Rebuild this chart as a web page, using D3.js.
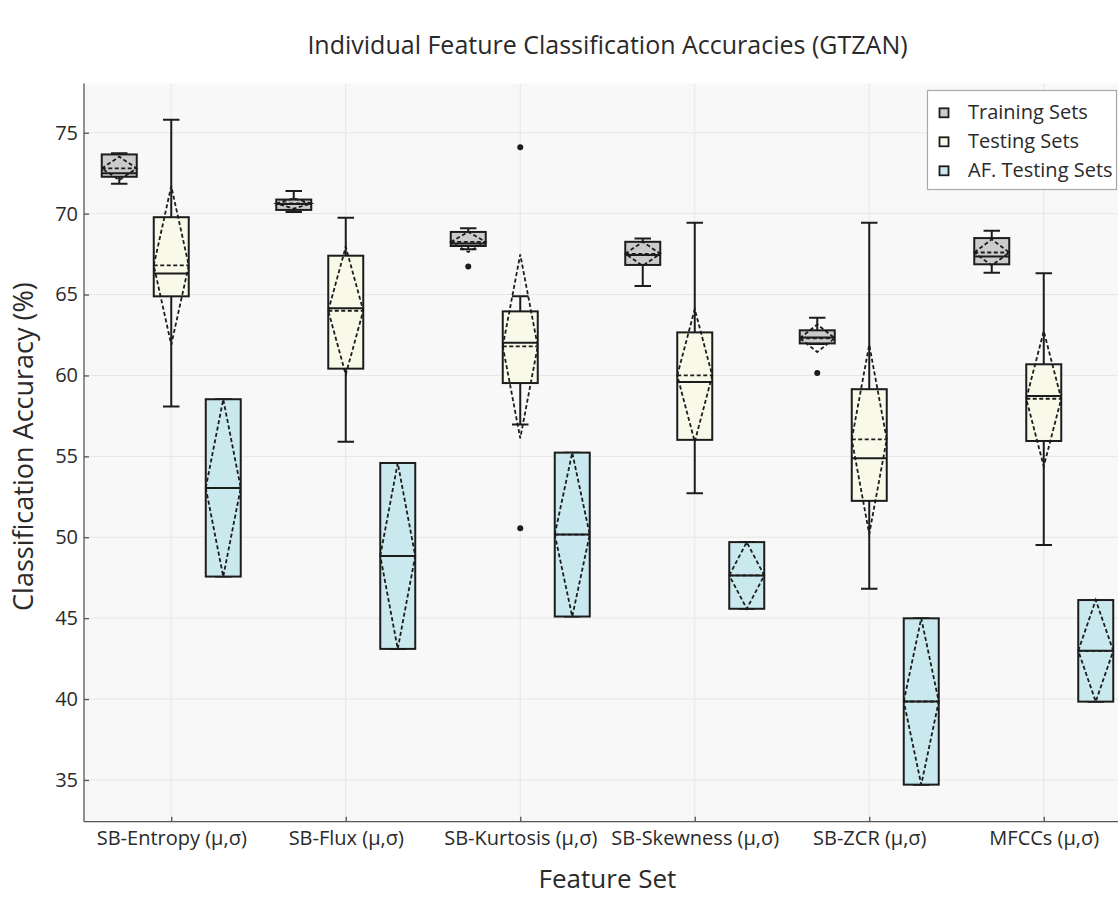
<!DOCTYPE html>
<html>
<head>
<meta charset="utf-8">
<script src="https://cdn.jsdelivr.net/npm/d3@7"></script>
<style>
  html, body { margin: 0; padding: 0; background: #ffffff; }
  svg { display: block; font-family: "Open Sans", "Noto Sans", sans-serif; }
</style>
</head>
<body>
<svg id="chart" width="1118" height="897"></svg>
<script>
// ---- data ----------------------------------------------------------------
const categories = ["SB-Entropy (μ,σ)", "SB-Flux (μ,σ)", "SB-Kurtosis (μ,σ)",
                    "SB-Skewness (μ,σ)", "SB-ZCR (μ,σ)", "MFCCs (μ,σ)"];
const seriesNames = ["Training Sets", "Testing Sets", "AF. Testing Sets"];
const yTicks = [35, 40, 45, 50, 55, 60, 65, 70, 75];

// Training folds: five-number summary, mean, standard deviation, outliers
const trainLow      = [71.85, 70.10, 67.80, 65.53, 61.95, 66.35];
const trainQ1       = [72.28, 70.23, 68.00, 66.83, 61.98, 66.87];
const trainMedian   = [72.49, 70.60, 68.15, 67.45, 62.35, 67.35];
const trainQ3       = [73.66, 70.87, 68.87, 68.26, 62.79, 68.49];
const trainHigh     = [73.73, 71.40, 69.10, 68.47, 63.57, 68.94];
const trainMean     = [72.80, 70.63, 68.25, 67.52, 62.30, 67.60];
const trainSd       = [0.72, 0.32, 0.62, 0.74, 0.85, 0.81];
const trainOutliers = [[], [], [66.74], [], [60.15], []];

// Testing folds
const testLow      = [58.08, 55.91, 56.97, 52.72, 46.82, 49.52];
const testQ1       = [64.89, 60.42, 59.53, 56.02, 52.25, 55.95];
const testMedian   = [66.30, 64.15, 62.02, 59.59, 54.89, 58.73];
const testQ3       = [69.78, 67.40, 63.96, 62.66, 59.15, 60.69];
const testHigh     = [75.81, 69.75, 64.89, 69.43, 69.43, 66.31];
const testMean     = [66.80, 64.00, 61.80, 60.00, 56.05, 58.56];
const testSd       = [4.90, 3.95, 5.68, 4.10, 5.85, 4.18];
const testOutliers = [[], [], [74.11, 50.55], [], [], []];

// AF testing: the two fold accuracies per feature set
const afFoldLow  = [47.57, 43.10, 45.10, 45.58, 34.71, 39.84];
const afFoldHigh = [58.53, 54.59, 55.23, 49.70, 44.99, 46.12];

// ---- styling -------------------------------------------------------------
const fills = ["#cbcbcb", "#f9f9ea", "#c9e9ef"];
const ink = "#1c1c1c";

// ---- build per-series box descriptions -----------------------------------
function boxesFrom(low, q1, med, q3, high, mean, sd, outl) {
  return categories.map((c, i) => ({
    cat: c, low: low[i], q1: q1[i], med: med[i], q3: q3[i], high: high[i],
    mean: mean[i], sd: sd[i], outliers: outl[i]
  }));
}
// a box of two values: quartiles at the values, mean/median at their midpoint,
// (population) standard deviation equal to half their spread
const afBoxes = categories.map((c, i) => {
  const vals = [afFoldLow[i], afFoldHigh[i]];
  const m = d3.mean(vals);
  const sd = d3.deviation(vals) * Math.sqrt((vals.length - 1) / vals.length);
  return { cat: c, low: d3.min(vals), q1: d3.min(vals), med: d3.median(vals),
           q3: d3.max(vals), high: d3.max(vals), mean: m, sd: sd, outliers: [] };
});

const series = [
  { name: seriesNames[0], fill: fills[0],
    boxes: boxesFrom(trainLow, trainQ1, trainMedian, trainQ3, trainHigh, trainMean, trainSd, trainOutliers) },
  { name: seriesNames[1], fill: fills[1],
    boxes: boxesFrom(testLow, testQ1, testMedian, testQ3, testHigh, testMean, testSd, testOutliers) },
  { name: seriesNames[2], fill: fills[2], boxes: afBoxes }
];

// ---- layout & scales -----------------------------------------------------
const plot = { left: 84, right: 1131, top: 83.4, bottom: 821.7 };
const svg = d3.select("#chart");

const x = d3.scalePoint().domain(categories)
  .range([plot.left, plot.right]).padding(0.5);
const xSub = d3.scaleBand().domain(seriesNames)
  .range([-78, 78]).paddingInner(0.327).paddingOuter(0.1635);
const y = d3.scaleLinear().domain([32.42, 78.05]).range([plot.bottom, plot.top]);

const bw = xSub.bandwidth();
const capW = bw * 0.47;

// plot background
svg.append("rect")
  .attr("x", plot.left).attr("y", plot.top)
  .attr("width", plot.right - plot.left).attr("height", plot.bottom - plot.top)
  .attr("fill", "#f8f8f8");

// grid
const grid = svg.append("g").attr("stroke", "#e6e6e6").attr("stroke-width", 1);
grid.selectAll("line.h").data(yTicks).join("line").attr("class", "h")
  .attr("x1", plot.left).attr("x2", plot.right)
  .attr("y1", d => y(d)).attr("y2", d => y(d));
grid.selectAll("line.v").data(categories).join("line").attr("class", "v")
  .attr("x1", d => x(d)).attr("x2", d => x(d))
  .attr("y1", plot.top).attr("y2", plot.bottom);

// boxes
series.forEach(s => {
  const g = svg.append("g");
  s.boxes.forEach(b => {
    const cx = x(b.cat) + xSub(s.name) + bw / 2;
    const l = cx - bw / 2, r = cx + bw / 2;
    const gb = g.append("g");
    // whiskers
    gb.append("path")
      .attr("d", `M${cx},${y(b.q3)}V${y(b.high)}M${cx - capW / 2},${y(b.high)}H${cx + capW / 2}` +
                 `M${cx},${y(b.q1)}V${y(b.low)}M${cx - capW / 2},${y(b.low)}H${cx + capW / 2}`)
      .attr("fill", "none").attr("stroke", ink).attr("stroke-width", 2);
    // box
    gb.append("rect")
      .attr("x", l).attr("y", y(b.q3))
      .attr("width", bw).attr("height", y(b.q1) - y(b.q3))
      .attr("fill", s.fill).attr("stroke", ink).attr("stroke-width", 2);
    // median
    gb.append("line")
      .attr("x1", l).attr("x2", r).attr("y1", y(b.med)).attr("y2", y(b.med))
      .attr("stroke", ink).attr("stroke-width", 2);
    // mean line and standard-deviation diamond
    const ym = y(b.mean);
    gb.append("path")
      .attr("d", `M${l},${ym}H${r}M${l},${ym}L${cx},${y(b.mean + b.sd)}L${r},${ym}L${cx},${y(b.mean - b.sd)}Z`)
      .attr("fill", "none").attr("stroke", ink).attr("stroke-width", 1.8)
      .attr("stroke-dasharray", "4,2.5");
    // outliers
    gb.selectAll("circle").data(b.outliers).join("circle")
      .attr("cx", cx).attr("cy", d => y(d)).attr("r", 3).attr("fill", ink);
  });
});

// axes
const axisColor = "#555555";
const yAxis = svg.append("g").attr("transform", `translate(${plot.left},0)`)
  .call(d3.axisLeft(y).tickValues(yTicks).tickSizeInner(-5).tickSizeOuter(0).tickPadding(6));
const xAxis = svg.append("g").attr("transform", `translate(0,${plot.bottom})`)
  .call(d3.axisBottom(x).tickSizeInner(-5).tickSizeOuter(0).tickPadding(9));
[yAxis, xAxis].forEach(a => {
  a.select(".domain").attr("stroke", axisColor).attr("stroke-width", 1.3);
  a.selectAll(".tick line").attr("stroke", axisColor).attr("stroke-width", 1.3);
  a.selectAll(".tick text").attr("fill", "#2a2a2a")
    .style("font-size", "20px").style("font-family", '"Open Sans", sans-serif');
});
yAxis.select(".domain").attr("d", `M0,${plot.top}V${plot.bottom}`);
xAxis.select(".domain").attr("d", `M${plot.left},0H${plot.right}`);

// titles
const midX = (plot.left + plot.right) / 2;
svg.append("text").attr("x", midX).attr("y", 54)
  .attr("text-anchor", "middle").attr("fill", "#2a2a2a")
  .style("font-size", "25px")
  .text("Individual Feature Classification Accuracies (GTZAN)");
svg.append("text").attr("x", midX).attr("y", 888)
  .attr("text-anchor", "middle").attr("fill", "#2a2a2a")
  .style("font-size", "26px").text("Feature Set");
svg.append("text")
  .attr("transform", `translate(33,${(plot.top + plot.bottom) / 2 - 6}) rotate(-90)`)
  .attr("text-anchor", "middle").attr("fill", "#2a2a2a")
  .style("font-size", "27px").text("Classification Accuracy (%)");

// legend
const lg = svg.append("g");
lg.append("rect").attr("x", 927.5).attr("y", 90.5).attr("width", 189).attr("height", 99)
  .attr("fill", "#ffffff").attr("stroke", "#a8a8a8").attr("stroke-width", 1.2);
const rows = lg.selectAll("g.row").data(series).join("g").attr("class", "row")
  .attr("transform", (d, i) => `translate(0,${119.3 + i * 29})`);
rows.append("rect").attr("x", 939.5).attr("y", -11).attr("width", 9).attr("height", 9)
  .attr("fill", d => d.fill).attr("stroke", ink).attr("stroke-width", 1.8);
rows.append("text").attr("x", 968).attr("y", 0).attr("fill", "#2a2a2a")
  .style("font-size", "20px").text(d => d.name);
</script>
</body>
</html>
